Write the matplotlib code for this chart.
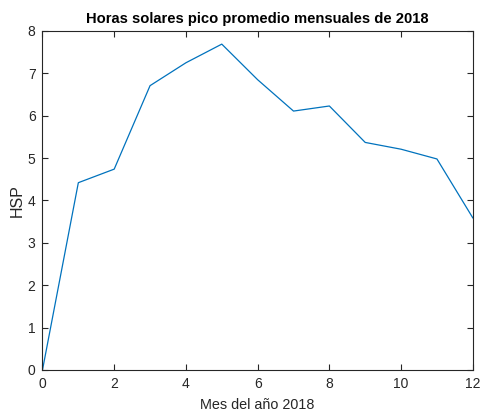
import matplotlib
matplotlib.use('Agg')
import matplotlib.pyplot as plt

# monthly average peak sun hours, 2018
months = [0, 1, 2, 3, 4, 5, 6, 7, 8, 9, 10, 11, 12]
hsp = [0, 4.42, 4.74, 6.71, 7.25, 7.69, 6.85, 6.11, 6.23, 5.37, 5.21, 4.98, 3.59]

plt.rcParams['font.family'] = ['Liberation Sans', 'DejaVu Sans']

fig = plt.figure(figsize=(4.8, 4.11), dpi=100)
ax = fig.add_axes([0.0885, 0.0998, 0.8965, 0.8248])

ax.plot(months, hsp, color='#0072BD', linewidth=0.9)

ax.set_xlim(0, 12)
ax.set_ylim(0, 8)
ax.set_xticks(range(0, 13, 2))
ax.set_yticks(range(0, 9))

ax.tick_params(direction='in', top=True, right=True, length=4, width=0.8,
               labelsize=10, colors='#262626', pad=5)
for s in ax.spines.values():
    s.set_color('#262626')
    s.set_linewidth(0.8)

ax.set_title('Horas solares pico promedio mensuales de 2018',
             fontsize=10.6, fontweight='bold', color='black', pad=6)
ax.set_xlabel('Mes del año 2018', fontsize=10.4, color='#262626', labelpad=5)
ax.set_ylabel('HSP', fontsize=11.5, color='#262626', labelpad=2)

fig.savefig('out.png', dpi=100)
